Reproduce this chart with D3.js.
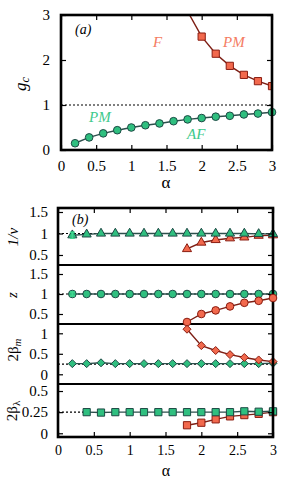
<!DOCTYPE html>
<html>
<head>
<meta charset="utf-8">
<script src="https://cdn.jsdelivr.net/npm/d3@7"></script>
<style>
  body { margin:0; background:#fff; }
  svg { display:block; }
</style>
</head>
<body>
<svg id="chart"></svg>
<script>
// ---- data ----
var alphaAll = [0.2,0.4,0.6,0.8,1.0,1.2,1.4,1.6,1.8,2.0,2.2,2.4,2.6,2.8,3.0];
var alphaRed = [1.8,2.0,2.2,2.4,2.6,2.8,3.0];
var alphaLam = [0.4,0.6,0.8,1.0,1.2,1.4,1.6,1.8,2.0,2.2,2.4,2.6,2.8,3.0];

// panel (a): critical couplings
var gcAF = [0.15,0.28,0.37,0.44,0.50,0.55,0.59,0.64,0.68,0.71,0.74,0.76,0.79,0.81,0.84];
var gcF  = [3.08,2.52,2.14,1.87,1.67,1.53,1.42];

// panel (b): exponents
var nuGreen  = [0.96,0.98,1.0,1.0,1.0,1.0,1.0,1.0,1.0,1.0,1.0,1.0,1.0,0.99,0.99];
var nuRed    = [0.64,0.79,0.85,0.89,0.91,0.95,0.96];
var zGreen   = [1.0,1.0,1.0,1.0,1.0,1.0,1.0,1.0,1.0,1.0,1.0,1.0,1.0,1.0,1.0];
var zRed     = [0.30,0.50,0.59,0.69,0.78,0.83,0.90];
var bmGreen  = [0.26,0.26,0.28,0.26,0.26,0.26,0.26,0.26,0.26,0.26,0.26,0.26,0.26,0.26,0.27];
var bmRed    = [1.10,0.70,0.58,0.48,0.41,0.35,0.31];
var blGreen  = [0.25,0.245,0.25,0.25,0.25,0.25,0.25,0.25,0.25,0.25,0.25,0.26,0.255,0.26];
var blRed    = [0.095,0.125,0.165,0.20,0.215,0.23,0.25];

var nuErr0 = 0.07, zErr0 = 0.05;   // error bars on the first green point

var xTicks = [0,0.5,1,1.5,2,2.5,3];

// ---- styles ----
var serif = "'Liberation Serif', 'Times New Roman', serif";
var green = {fill:"#2fbf7f", stroke:"#1d4a45", line:"#2d4f4c"};
var red   = {fill:"#f2694d", stroke:"#8a1c10", line:"#7d1e14"};
var greenText = "#3ec98b", redText = "#f47c62", errColor = "#3fd68f";

var W = 299, H = 478;
var svg = d3.select("#chart").attr("width",W).attr("height",H)
    .style("font-family",serif);

var diamond = function(s){
    return "M0,"+(-s)+"L"+s+",0L0,"+s+"L"+(-s)+",0Z";
};
var shapes = {
    circle: d3.symbol().type(d3.symbolCircle).size(46)(),
    square: d3.symbol().type(d3.symbolSquare).size(52)(),
    triangle: d3.symbol().type(d3.symbolTriangle).size(36)(),
    diamond: diamond(4)
};

var drawSeries = function(g,xs,ys,xScale,yScale,shape,col)
{
    var pts = xs.map(function(a,i){ return [a,ys[i]]; });
    g.append("path")
        .attr("d", d3.line().x(function(d){return xScale(d[0]);}).y(function(d){return yScale(d[1]);})(pts))
        .attr("fill","none")
        .attr("stroke",col.line)
        .attr("stroke-width",1.4);
    g.selectAll(null)
        .data(pts)
        .enter()
        .append("path")
        .attr("d",shapes[shape])
        .attr("transform",function(d){ return "translate("+xScale(d[0])+","+yScale(d[1])+")"; })
        .attr("fill",col.fill)
        .attr("stroke",col.stroke)
        .attr("stroke-width",1);
};

var dotted = function(g,x0,x1,y)
{
    g.append("line")
        .attr("x1",x0).attr("x2",x1).attr("y1",y).attr("y2",y)
        .attr("stroke","#000").attr("stroke-width",1.2)
        .attr("stroke-dasharray","2,2");
};

var errBar = function(g,x,y0,y1)
{
    g.append("path")
        .attr("d","M"+x+","+y0+"V"+y1+"M"+(x-2.5)+","+y0+"H"+(x+2.5)+"M"+(x-2.5)+","+y1+"H"+(x+2.5))
        .attr("stroke",errColor).attr("stroke-width",1.6).attr("fill","none");
};

var styleAxis = function(sel,fs)
{
    sel.attr("font-family",null).style("font-family",serif);
    sel.select(".domain").remove();
    sel.selectAll(".tick line").attr("stroke","#000").attr("stroke-width",1.2);
    sel.selectAll(".tick text")
        .style("font-family",serif)
        .attr("font-size",fs).attr("fill","#000");
};

var txt = function(g,x,y,s,size,color,italic)
{
    return g.append("text").attr("x",x).attr("y",y)
        .style("font-family",serif)
        .attr("font-size",size)
        .attr("font-style",italic ? "italic" : "normal")
        .attr("fill",color || "#000")
        .text(s);
};

// ================= panel (a) =================
var A = {left:61, right:272, top:15, bottom:150};
var xA = d3.scaleLinear().domain([0,3]).range([A.left,A.right]);
var yA = d3.scaleLinear().domain([0,3]).range([A.bottom,A.top]);

svg.append("clipPath").attr("id","clipA")
    .append("rect").attr("x",A.left).attr("y",A.top)
    .attr("width",A.right-A.left).attr("height",A.bottom-A.top+6);

var ga = svg.append("g");
dotted(ga,A.left,A.right,yA(1));
var gaData = ga.append("g").attr("clip-path","url(#clipA)");
drawSeries(gaData,alphaRed,gcF,xA,yA,"square",red);
drawSeries(ga,alphaAll,gcAF,xA,yA,"circle",green);

ga.append("g").attr("transform","translate("+A.left+",0)")
    .call(d3.axisLeft(yA).tickValues([0,1,2,3]).tickSizeInner(-5).tickSizeOuter(0).tickPadding(11).tickFormat(function(d){return d;}))
    .call(styleAxis,15);
ga.append("g").attr("transform","translate("+A.right+",0)")
    .call(d3.axisRight(yA).tickValues([0,1,2,3]).tickSizeInner(-5).tickSizeOuter(0).tickFormat(""))
    .call(styleAxis,15);
ga.append("g").attr("transform","translate(0,"+A.bottom+")")
    .call(d3.axisBottom(xA).tickValues(xTicks).tickSizeInner(-5).tickSizeOuter(0).tickPadding(10).tickFormat(function(d){return d;}))
    .call(styleAxis,15);
ga.append("g").attr("transform","translate(0,"+A.top+")")
    .call(d3.axisTop(xA).tickValues(xTicks).tickSizeInner(-5).tickSizeOuter(0).tickFormat(""))
    .call(styleAxis,15);

ga.append("rect").attr("x",A.left).attr("y",A.top)
    .attr("width",A.right-A.left).attr("height",A.bottom-A.top)
    .attr("fill","none").attr("stroke","#000").attr("stroke-width",2.6);

txt(ga,75,34,"(a)",14,"#000",true);
txt(ga,153,47,"F",15,redText,true);
txt(ga,223,47,"PM",15,redText,true);
txt(ga,89,122,"PM",15,greenText,true);
txt(ga,187,139,"AF",15,greenText,true);

txt(ga,166,188,"α",17,"#000",false).attr("text-anchor","middle");
var gcLab = txt(ga,0,0,"",17,"#000",true)
    .attr("x",null).attr("y",null)
    .attr("transform","translate(26,84) rotate(-90)")
    .attr("text-anchor","middle");
gcLab.append("tspan").text("g");
gcLab.append("tspan").attr("font-size",12).attr("dy",3).text("c");

// ================= panel (b) =================
var B = {left:58, right:273, top:208, bottom:437};
var xB = d3.scaleLinear().domain([0,3]).range([B.left,B.right]);

var subs = [
    {top:208, bottom:265, domain:[0.267,1.593], ticks:[0.5,1,1.5]},
    {top:265, bottom:324, domain:[0.25,1.725],  ticks:[0.5,1,1.5]},
    {top:324, bottom:384, domain:[-0.237,1.227],ticks:[0,0.5,1]},
    {top:384, bottom:437, domain:[-0.044,0.583],ticks:[0,0.25,0.5]}
];
subs.forEach(function(s){
    s.y = d3.scaleLinear().domain(s.domain).range([s.bottom,s.top]);
});

var gb = svg.append("g");

// 1/nu
var y1 = subs[0].y;
dotted(gb,B.left,B.right,y1(1));
drawSeries(gb,alphaRed,nuRed,xB,y1,"triangle",red);
drawSeries(gb,alphaAll,nuGreen,xB,y1,"triangle",green);
errBar(gb,xB(0.2),y1(nuGreen[0]-nuErr0),y1(nuGreen[0]+nuErr0));

// z
var y2 = subs[1].y;
dotted(gb,B.left,B.right,y2(1));
drawSeries(gb,alphaAll,zGreen,xB,y2,"circle",green);
errBar(gb,xB(0.2),y2(zGreen[0]-zErr0),y2(zGreen[0]+zErr0));

// 2 beta_m
var y3 = subs[2].y;
dotted(gb,B.left,B.right,y3(0.25));
drawSeries(gb,alphaAll,bmGreen,xB,y3,"diamond",green);
drawSeries(gb,alphaRed,bmRed,xB,y3,"diamond",red);

// 2 beta_lambda
var y4 = subs[3].y;
dotted(gb,B.left,xB(0.4),y4(0.25));
drawSeries(gb,alphaRed,blRed,xB,y4,"square",red);
drawSeries(gb,alphaLam,blGreen,xB,y4,"square",green);

subs.forEach(function(s){
    gb.append("g").attr("transform","translate("+B.left+",0)")
        .call(d3.axisLeft(s.y).tickValues(s.ticks).tickSizeInner(-5).tickSizeOuter(0).tickPadding(10).tickFormat(function(d){return d;}))
        .call(styleAxis,15);
    gb.append("g").attr("transform","translate("+B.right+",0)")
        .call(d3.axisRight(s.y).tickValues(s.ticks).tickSizeInner(-5).tickSizeOuter(0).tickFormat(""))
        .call(styleAxis,15);
});
gb.append("g").attr("transform","translate(0,"+B.bottom+")")
    .call(d3.axisBottom(xB).tickValues(xTicks).tickSizeInner(-5).tickSizeOuter(0).tickPadding(8).tickFormat(function(d){return d;}))
    .call(styleAxis,14);
gb.append("g").attr("transform","translate(0,"+B.top+")")
    .call(d3.axisTop(xB).tickValues(xTicks).tickSizeInner(-5).tickSizeOuter(0).tickFormat(""))
    .call(styleAxis,14);

[265,324,384].forEach(function(yy){
    gb.append("line").attr("x1",B.left).attr("x2",B.right).attr("y1",yy).attr("y2",yy)
        .attr("stroke","#000").attr("stroke-width",2);
});
gb.append("rect").attr("x",B.left).attr("y",B.top)
    .attr("width",B.right-B.left).attr("height",B.bottom-B.top)
    .attr("fill","none").attr("stroke","#000").attr("stroke-width",2.6);

// z red drawn on top so it sits over the separator like the original
drawSeries(gb,alphaRed,zRed,xB,y2,"circle",red);

txt(gb,72,224,"(b)",14,"#000",true);
txt(gb,166,476,"α",16,"#000",false).attr("text-anchor","middle");

var rotLabel = function(x,y,italic){
    return gb.append("text").attr("transform","translate("+x+","+y+") rotate(-90)")
        .style("font-family",serif)
        .attr("font-style",italic ? "italic" : "normal")
        .attr("text-anchor","middle").attr("font-size",15);
};
rotLabel(18,237,true).text("1/ν");
rotLabel(17,295,true).text("z");
var bm = rotLabel(18,350,false);
bm.append("tspan").text("2β");
bm.append("tspan").attr("font-size",11).attr("dy",3).attr("font-style","italic").text("m");
var bl = rotLabel(17,411,false);
bl.append("tspan").text("2β");
bl.append("tspan").attr("font-size",11).attr("dy",3).text("λ");
</script>
</body>
</html>
